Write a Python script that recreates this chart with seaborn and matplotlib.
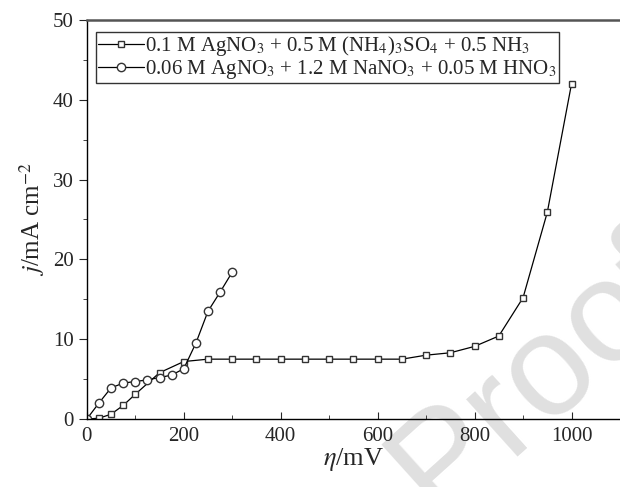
import matplotlib
matplotlib.use("Agg")
import matplotlib.pyplot as plt
from matplotlib.ticker import MultipleLocator
import seaborn as sns

# squares: 0.1 M AgNO3 + 0.5 M (NH4)3SO4 + 0.5 NH3
eta_sq = [0, 25, 50, 75, 100, 150, 200, 250, 300, 350, 400, 450, 500, 550,
          600, 650, 700, 750, 800, 850, 900, 950, 1000]
j_sq = [0.0, 0.1, 0.6, 1.7, 3.1, 5.8, 7.2, 7.5, 7.5, 7.5, 7.5, 7.5, 7.5, 7.5,
        7.5, 7.5, 8.0, 8.3, 9.1, 10.4, 15.2, 25.9, 42.0]

# circles: 0.06 M AgNO3 + 1.2 M NaNO3 + 0.05 M HNO3
eta_ci = [0, 25, 50, 75, 100, 125, 150, 175, 200, 225, 250, 275, 300]
j_ci = [0.0, 2.0, 3.9, 4.5, 4.7, 4.9, 5.2, 5.5, 6.3, 9.5, 13.5, 15.9, 18.4]

lab_sq = r'0.1 M AgNO$_3$ + 0.5 M (NH$_4$)$_3$SO$_4$ + 0.5 NH$_3$'
lab_ci = r'0.06 M AgNO$_3$ + 1.2 M NaNO$_3$ + 0.05 M HNO$_3$'

sns.set_style("ticks")
plt.rcParams['font.family'] = ['Liberation Serif', 'DejaVu Serif']
plt.rcParams['mathtext.fontset'] = 'stix'

fig = plt.figure(figsize=(6.2, 4.87), dpi=100)
ax = fig.add_axes([0.140, 0.1396, 0.86, 0.8194])

# watermark, behind everything
fig.text(0.59, -0.05, 'Proof', rotation=42, fontsize=104, color='#e0e0e0',
         family='Liberation Sans', ha='left', va='baseline', zorder=-5)
ax.set_facecolor('none')

sns.lineplot(x=eta_sq, y=j_sq, ax=ax, color='black', lw=0.9, marker='s',
             markersize=5, markerfacecolor='white', markeredgecolor='#333333',
             markeredgewidth=1.0, label=lab_sq)
sns.lineplot(x=eta_ci, y=j_ci, ax=ax, color='black', lw=0.9, marker='o',
             markersize=6, markerfacecolor='white', markeredgecolor='#333333',
             markeredgewidth=1.0, label=lab_ci)

ax.set_xlim(0, 1100)
ax.set_ylim(0, 50)
ax.xaxis.set_major_locator(MultipleLocator(200))
ax.xaxis.set_minor_locator(MultipleLocator(100))
ax.yaxis.set_major_locator(MultipleLocator(10))
ax.yaxis.set_minor_locator(MultipleLocator(5))
ax.tick_params(axis='x', which='both', direction='in', labelsize=15, pad=6)
ax.tick_params(axis='x', which='major', length=5)
ax.tick_params(axis='x', which='minor', length=3)
ax.tick_params(axis='y', which='both', direction='out', labelsize=15)
ax.tick_params(axis='y', which='major', length=6)
ax.tick_params(axis='y', which='minor', length=3)

for s in ['left', 'bottom']:
    ax.spines[s].set_color('black')
    ax.spines[s].set_linewidth(1.0)
ax.spines['top'].set_color('#555555')
ax.spines['top'].set_linewidth(1.8)
ax.spines['right'].set_visible(False)

ax.set_xlabel(r'$\eta$/mV', fontsize=19, labelpad=0)
ax.set_ylabel(r'$j$/mA cm$^{-2}$', fontsize=18, labelpad=4)

leg = ax.legend(loc='upper left', bbox_to_anchor=(0.0175, 0.97), fontsize=15,
                frameon=True, fancybox=False, edgecolor='black',
                handlelength=2.2, handletextpad=0.05, borderpad=0.1,
                labelspacing=0.0, borderaxespad=0.0)
leg.get_frame().set_linewidth(1.0)

fig.savefig('out.png', dpi=100)
